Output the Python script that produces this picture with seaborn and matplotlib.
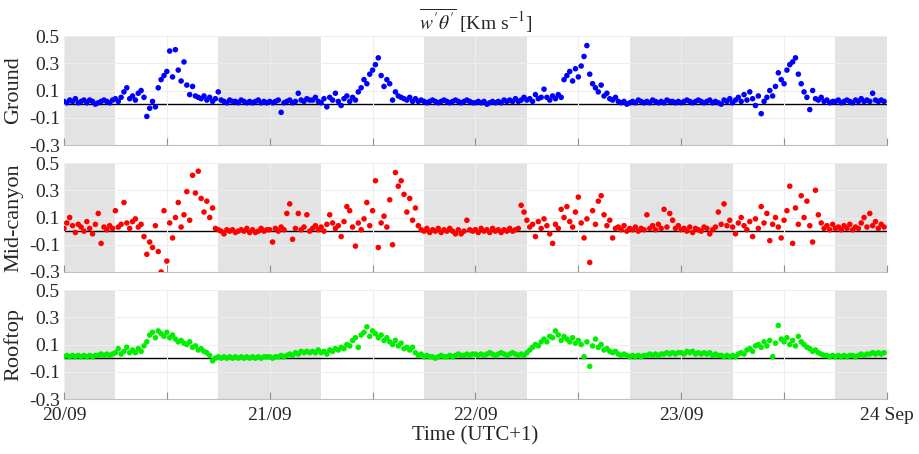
import numpy as np
import pandas as pd
import matplotlib
matplotlib.use("Agg")
import matplotlib.pyplot as plt
import seaborn as sns

# ---------------- data (20-min samples, values in K m s-1) ----------------
ground = [
    # 20/09
    0.02, 0.01, 0.03, 0.02, 0.04, 0.01, 0.02, 0.03, 0.01, 0.03, 0.02, 0.00,
    0.01, 0.02, 0.03, 0.02, 0.01, 0.03, 0.04, 0.02, 0.05, 0.09, 0.12, 0.04,
    0.06, 0.03, 0.08, 0.10, 0.05, -0.09, -0.03, 0.02, -0.02, 0.12, 0.18, 0.21,
    0.24, 0.39, 0.20, 0.40, 0.25, 0.17, 0.31, 0.14, 0.07, 0.13, 0.06, 0.05,
    0.04, 0.06, 0.03, 0.05, 0.02, 0.04, 0.09, 0.03, 0.02, 0.01, 0.03, 0.02,
    0.02, 0.01, 0.03, 0.02, 0.01, 0.02, 0.01, 0.02, 0.03, 0.01, 0.02, 0.01,
    # 21/09
    0.02, 0.01, 0.02, 0.03, -0.06, 0.01, 0.02, 0.03, 0.01, 0.02, 0.08, 0.03,
    0.02, 0.04, 0.03, 0.03, 0.05, 0.02, 0.01, 0.04, -0.02, 0.05, 0.03, 0.08,
    0.02, -0.01, 0.04, 0.06, 0.02, 0.05, 0.03, 0.09, 0.12, 0.18, 0.15, 0.22,
    0.25, 0.29, 0.34, 0.21, 0.13, 0.18, 0.15, 0.03, 0.09, 0.06, 0.05, 0.04,
    0.03, 0.05, 0.02, 0.04, 0.02, 0.03, 0.02, 0.01, 0.02, 0.03, 0.02, 0.01,
    0.02, 0.03, 0.02, 0.01, 0.02, 0.03, 0.02, 0.01, 0.02, 0.03, 0.02, 0.01,
    # 22/09
    0.01, 0.02, 0.01, 0.02, 0.00, 0.01, 0.02, 0.01, 0.02, 0.01, 0.03, 0.02,
    0.03, 0.02, 0.04, 0.02, 0.03, 0.05, 0.03, 0.04, 0.02, 0.07, 0.04, 0.05,
    0.11, 0.05, 0.03, 0.06, 0.04, 0.07, 0.05, 0.18, 0.21, 0.24, 0.17, 0.26,
    0.20, 0.28, 0.35, 0.43, 0.22, 0.15, 0.12, 0.09, 0.14, 0.06, 0.08, 0.04,
    0.03, 0.05, 0.02, 0.01, 0.02, 0.00, 0.01, 0.02, 0.01, 0.03, 0.02, 0.01,
    0.02, 0.01, 0.03, 0.02, 0.01, 0.02, 0.01, 0.03, 0.02, 0.02, 0.01, 0.02,
    # 23/09
    0.01, 0.02, 0.03, 0.02, 0.01, 0.02, 0.03, 0.02, 0.01, 0.02, 0.03, 0.01,
    0.02, 0.01, 0.00, 0.03, 0.02, 0.04, 0.01, 0.03, 0.05, 0.02, 0.07, 0.03,
    0.09, 0.04, -0.01, 0.06, -0.07, 0.02, 0.05, 0.10, 0.06, 0.13, 0.23, 0.18,
    0.15, 0.25, 0.29, 0.31, 0.34, 0.22, 0.15, 0.09, 0.05, -0.04, 0.10, 0.04,
    0.03, 0.05, 0.02, 0.03, 0.01, 0.02, 0.02, 0.03, 0.01, 0.02, 0.03, 0.02,
    0.01, 0.03, 0.02, 0.04, 0.02, 0.03, 0.02, 0.08, 0.03, 0.02, 0.03, 0.02,
]

midcanyon = [
    # 20/09
    0.02, 0.06, 0.10, 0.04, -0.01, 0.05, 0.03, 0.00, 0.07, 0.02, -0.02, 0.05,
    0.13, -0.09, 0.03, 0.01, 0.04, 0.02, 0.15, 0.03, 0.05, 0.21, 0.06, 0.02,
    0.07, 0.09, 0.03, 0.05, -0.04, -0.17, -0.08, -0.12, 0.04, -0.15, -0.30, 0.15,
    -0.22, 0.06, -0.05, 0.10, 0.21, 0.03, 0.12, 0.29, 0.08, 0.41, 0.28, 0.44,
    0.24, 0.14, 0.22, 0.10, 0.17, 0.02, 0.01, 0.00, -0.02, 0.01, 0.00, 0.01,
    -0.01, 0.00, 0.01, 0.00, 0.02, -0.01, 0.01, -0.01, 0.00, 0.02, 0.00, 0.01,
    # 21/09
    0.01, -0.08, 0.02, 0.00, 0.03, 0.01, 0.13, 0.20, -0.06, 0.02, 0.13, 0.01,
    0.03, 0.12, 0.00, 0.02, 0.04, 0.01, 0.03, 0.00, 0.05, 0.12, 0.06, 0.02,
    0.04, -0.04, 0.07, 0.18, 0.15, 0.03, -0.11, 0.06, 0.01, 0.09, 0.21, 0.04,
    0.15, 0.37, -0.12, 0.06, 0.11, 0.03, 0.23, -0.10, 0.43, 0.33, 0.37, 0.27,
    0.14, 0.24, 0.08, 0.17, 0.04, 0.01, 0.00, 0.02, -0.01, 0.01, 0.00, 0.02,
    -0.01, 0.01, 0.00, 0.02, 0.00, -0.02, 0.01, -0.02, 0.00, 0.08, 0.01, 0.00,
    # 22/09
    0.01, -0.01, 0.02, 0.00, 0.01, -0.01, 0.02, 0.00, 0.01, -0.01, 0.01, 0.00,
    0.02, 0.00, 0.01, 0.02, 0.19, 0.14, 0.08, 0.03, 0.05, -0.04, 0.07, 0.02,
    0.09, 0.04, -0.02, -0.09, 0.05, 0.02, 0.16, 0.10, 0.18, 0.07, 0.03, 0.14,
    0.25, 0.06, -0.05, 0.09, -0.23, 0.15, 0.05, 0.22, 0.26, 0.12, 0.04, 0.08,
    -0.05, 0.02, 0.03, 0.01, 0.04, 0.00, 0.02, 0.01, 0.03, 0.00, 0.02, 0.01,
    0.12, 0.02, 0.04, 0.01, 0.05, 0.02, 0.16, 0.03, 0.13, 0.08, 0.02, 0.04,
    # 23/09
    0.01, 0.02, 0.00, 0.03, -0.01, 0.02, 0.01, 0.00, 0.03, 0.02, -0.02, 0.01,
    0.03, 0.14, 0.05, 0.20, 0.04, 0.08, 0.03, -0.02, 0.06, 0.10, 0.04, 0.01,
    0.07, -0.04, 0.09, 0.02, 0.18, 0.06, 0.13, -0.07, 0.05, 0.10, 0.03, -0.05,
    0.08, 0.15, 0.33, -0.09, 0.17, 0.05, 0.26, 0.10, 0.22, 0.04, -0.08, 0.30,
    0.12, 0.06, 0.02, 0.04, 0.01, 0.05, 0.02, 0.03, 0.01, 0.04, 0.02, 0.05,
    0.01, 0.03, 0.02, 0.06, 0.10, 0.03, 0.13, 0.04, 0.07, 0.02, 0.05, 0.03,
]

rooftop = [
    # 20/09
    0.01, 0.02, 0.01, 0.02, 0.01, 0.02, 0.01, 0.02, 0.01, 0.02, 0.01, 0.02,
    0.02, 0.03, 0.02, 0.03, 0.02, 0.03, 0.04, 0.07, 0.03, 0.05, 0.08, 0.04,
    0.06, 0.04, 0.07, 0.05, 0.09, 0.12, 0.17, 0.19, 0.15, 0.20, 0.18, 0.16,
    0.19, 0.15, 0.17, 0.14, 0.12, 0.13, 0.11, 0.10, 0.12, 0.08, 0.09, 0.06,
    0.07, 0.05, 0.04, 0.02, -0.02, 0.00, 0.01, 0.00, 0.01, 0.00, 0.01, 0.00,
    0.01, 0.00, 0.01, 0.00, 0.01, 0.00, 0.01, 0.00, 0.01, 0.00, 0.01, 0.01,
    # 21/09
    0.01, 0.00, 0.01, 0.01, 0.02, 0.01, 0.02, 0.03, 0.02, 0.04, 0.03, 0.05,
    0.04, 0.05, 0.04, 0.05, 0.04, 0.06, 0.04, 0.05, 0.03, 0.06, 0.05, 0.07,
    0.06, 0.08, 0.07, 0.10, 0.09, 0.13, 0.15, 0.08, 0.17, 0.19, 0.23, 0.16,
    0.20, 0.18, 0.15, 0.17, 0.13, 0.15, 0.12, 0.10, 0.13, 0.09, 0.11, 0.07,
    0.08, 0.06, 0.08, 0.04, 0.02, 0.03, 0.01, 0.02, 0.01, 0.01, 0.00, 0.01,
    0.02, 0.01, 0.01, 0.02, 0.01, 0.02, 0.03, 0.02, 0.02, 0.03, 0.02, 0.03,
    # 22/09
    0.03, 0.02, 0.03, 0.02, 0.03, 0.04, 0.03, 0.02, 0.03, 0.04, 0.03, 0.02,
    0.03, 0.04, 0.03, 0.02, 0.03, 0.02, 0.04, 0.06, 0.08, 0.10, 0.09, 0.12,
    0.14, 0.12, 0.16, 0.15, 0.20, 0.17, 0.13, 0.16, 0.14, 0.12, 0.15, 0.11,
    0.13, 0.10, 0.01, 0.12, -0.06, 0.09, 0.14, 0.08, 0.10, 0.06, 0.07, 0.05,
    0.04, 0.05, 0.03, 0.02, 0.03, 0.02, 0.01, 0.02, 0.01, 0.02, 0.01, 0.02,
    0.02, 0.03, 0.02, 0.03, 0.02, 0.03, 0.03, 0.04, 0.03, 0.04, 0.03, 0.04,
    # 23/09
    0.04, 0.03, 0.05, 0.04, 0.05, 0.03, 0.04, 0.03, 0.04, 0.03, 0.04, 0.02,
    0.03, 0.02, 0.02, 0.01, 0.02, 0.01, 0.02, 0.01, 0.03, 0.04, 0.03, 0.06,
    0.07, 0.05, 0.09, 0.10, 0.08, 0.12, 0.09, 0.13, 0.01, 0.11, 0.24, 0.14,
    0.12, 0.15, 0.10, 0.13, 0.09, 0.16, 0.12, 0.10, 0.08, 0.07, 0.05, 0.06,
    0.04, 0.03, 0.02, 0.02, 0.01, 0.02, 0.01, 0.02, 0.01, 0.02, 0.01, 0.02,
    0.02, 0.01, 0.02, 0.03, 0.02, 0.03, 0.03, 0.04, 0.03, 0.04, 0.03, 0.04,
]

panel_names = ["Ground", "Mid-canyon", "Rooftop"]
panel_colors = ["#0000ff", "#ff0000", "#00ee00"]
day_ticks = [0, 1, 2, 3, 4]
day_labels = ["20/09", "21/09", "22/09", "23/09", "24 Sep"]
night_start = [0.0, 0.75, 1.75, 2.75, 3.75]
night_end = [0.25, 1.25, 2.25, 3.25, 4.0]
y_ticks = [-0.3, -0.1, 0.1, 0.3, 0.5]
samples_per_day = 72

# ---------------- styling ----------------
sns.set_theme(style="white")
plt.rcParams["font.family"] = ["Liberation Serif", "DejaVu Serif"]
plt.rcParams["mathtext.fontset"] = "stix"

fig = plt.figure(figsize=(9.19, 4.54), dpi=100)
left, width = 0.0696, 0.8955
bottoms = [0.6806, 0.4009, 0.1211]
height = 0.2400

series = [ground, midcanyon, rooftop]
for i, (vals, name, col) in enumerate(zip(series, panel_names, panel_colors)):
    ax = fig.add_axes([left, bottoms[i], width, height])
    df = pd.DataFrame({"day": np.arange(len(vals)) / samples_per_day, "flux": vals})
    for s, e in zip(night_start, night_end):
        ax.axvspan(s, e, color="#e3e3e3", lw=0, zorder=0)
    ax.set_xlim(0, 4)
    ax.set_ylim(-0.3, 0.5)
    ax.set_yticks(y_ticks)
    ax.set_yticklabels([f"{v:.1f}" for v in y_ticks])
    ax.set_xticks(day_ticks)
    ax.set_xticks(np.arange(0.5, 4, 1.0), minor=True)
    ax.grid(True, which="both", color="#eeeeee", lw=0.8, zorder=1)
    ax.set_axisbelow(False)
    ax.axhline(0, color="black", lw=1.0, zorder=2)
    sns.scatterplot(data=df, x="day", y="flux", ax=ax, color=col, s=16,
                    linewidth=0, edgecolor="none", zorder=3, legend=False)
    ax.set_xlabel("")
    ax.set_ylabel(name, fontsize=16, labelpad=4)
    for sp in ["top", "right", "left"]:
        ax.spines[sp].set_visible(False)
    ax.spines["bottom"].set_color("#c0c0c0")
    ax.spines["bottom"].set_linewidth(0.8)
    ax.tick_params(axis="y", length=0, labelsize=14, pad=3)
    ax.tick_params(axis="x", which="both", direction="in", length=5,
                   color="#909090", width=0.8, bottom=True, pad=6)
    if i < 2:
        ax.set_xticklabels([])
    else:
        ax.set_xticklabels(day_labels, fontsize=14)
        ax.set_xlabel("Time (UTC+1)", fontsize=15, labelpad=1)
    if i == 0:
        ax.set_title(r"$\overline{w^{\prime}\theta^{\prime}}$ [Km s$^{-1}$]",
                     fontsize=14, pad=4)

fig.savefig("out.png", dpi=100)
